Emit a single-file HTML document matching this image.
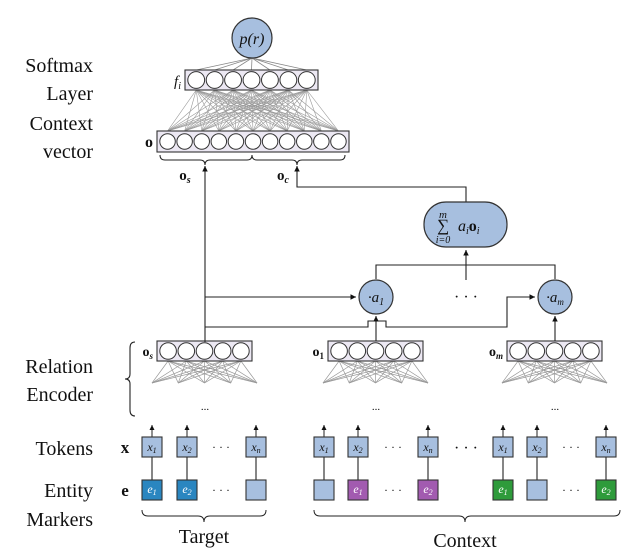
<!DOCTYPE html>
<html><head><meta charset="utf-8"><style>
body{margin:0;background:#fff}
svg{display:block}
text{font-family:"Liberation Serif",serif;fill:#111}
.it{font-style:italic}
</style></head><body>
<svg id="s" width="639" height="555" viewBox="0 0 639 555" xmlns="http://www.w3.org/2000/svg">
<defs><marker id="a" markerWidth="6" markerHeight="6" refX="5" refY="3" orient="auto"><path d="M0,0.5 L5,3 L0,5.5 z" fill="#111"/></marker></defs>
<g font-size="20" text-anchor="end">
<text x="93" y="72">Softmax</text>
<text x="93" y="100">Layer</text>
<text x="93" y="130">Context</text>
<text x="93" y="158">vector</text>
<text x="93" y="373">Relation</text>
<text x="93" y="401">Encoder</text>
<text x="93" y="455">Tokens</text>
<text x="93" y="497">Entity</text>
<text x="93" y="526">Markers</text>
</g>
<g id="g"></g>
<circle cx="252" cy="38" r="20" fill="#a7bfdf" stroke="#333" stroke-width="1.2"/>
<text x="252" y="44" font-size="16" text-anchor="middle" class="it">p(r)</text>
<text x="181" y="86" font-size="15" text-anchor="end" class="it">f<tspan font-size="10" dy="3">i</tspan></text>
<text x="153" y="147" font-size="16" text-anchor="end" font-weight="bold">o</text>
<text x="185" y="180" font-size="15" text-anchor="middle" font-weight="bold">o<tspan font-size="10" dy="3" class="it">s</tspan></text>
<text x="283" y="180" font-size="15" text-anchor="middle" font-weight="bold">o<tspan font-size="10" dy="3" class="it">c</tspan></text>
<path d="M160,155 q0,5 5,5 h35 q5,0 5,5 q0,-5 5,-5 h37 q5,0 5,-5 M252,155 q0,5 5,5 h35 q5,0 5,5 q0,-5 5,-5 h38 q5,0 5,-5" fill="none" stroke="#222" stroke-width="1"/>
<g stroke="#222" stroke-width="1.1" fill="none">
<line x1="205" y1="342" x2="205" y2="166" marker-end="url(#a)"/>
<polyline points="466,202 466,187 297,187 297,166" marker-end="url(#a)"/>
<line x1="466" y1="280" x2="466" y2="250" marker-end="url(#a)"/>
<polyline points="376,279 376,265 555,265 555,279"/>
<line x1="205" y1="297" x2="356" y2="297" marker-end="url(#a)"/>
<polyline points="205,327 368,327 368,321 386,321 386,327 507,327 507,297 535,297" marker-end="url(#a)"/>
<line x1="376" y1="341" x2="376" y2="316" marker-end="url(#a)"/>
<line x1="555" y1="341" x2="555" y2="316" marker-end="url(#a)"/>
</g>
<rect x="424" y="202" width="83" height="45" rx="22" fill="#a7bfdf" stroke="#333" stroke-width="1.2"/>
<text x="443" y="218" font-size="11" text-anchor="middle" class="it">m</text>
<text x="443" y="231" font-size="17" text-anchor="middle">∑</text>
<text x="443" y="243" font-size="10" text-anchor="middle" class="it">i=0</text>
<text x="458" y="231" font-size="16" class="it">a<tspan font-size="10" dy="3">i</tspan><tspan dy="-3" font-weight="bold" font-style="normal">o</tspan><tspan font-size="10" dy="3">i</tspan></text>
<circle cx="376" cy="297" r="17" fill="#a7bfdf" stroke="#333" stroke-width="1.2"/>
<text x="376" y="302" font-size="15" text-anchor="middle" class="it">·a<tspan font-size="10" dy="3">1</tspan></text>
<circle cx="555" cy="297" r="17" fill="#a7bfdf" stroke="#333" stroke-width="1.2"/>
<text x="555" y="302" font-size="15" text-anchor="middle" class="it">·a<tspan font-size="9" dy="3">m</tspan></text>
<text x="466" y="302" font-size="16" text-anchor="middle">· · ·</text>
<text x="153" y="356" font-size="14" text-anchor="end" font-weight="bold">o<tspan font-size="9" dy="3" class="it">s</tspan></text>
<text x="324" y="356" font-size="14" text-anchor="end" font-weight="bold">o<tspan font-size="9" dy="3">1</tspan></text>
<text x="503" y="356" font-size="14" text-anchor="end" font-weight="bold">o<tspan font-size="9" dy="3" class="it">m</tspan></text>
<path d="M135,342 q-5,0 -5,6 v26 q0,5 -5,5 q5,0 5,5 v26 q0,6 5,6" fill="none" stroke="#222" stroke-width="1.1"/>
<text x="125" y="453" font-size="17" text-anchor="middle" font-weight="bold">x</text>
<text x="125" y="496" font-size="17" text-anchor="middle" font-weight="bold">e</text>
<path d="M142,510 q0,6 6,6 h50 q6,0 6,6 q0,-6 6,-6 h50 q6,0 6,-6" fill="none" stroke="#222" stroke-width="1"/>
<text x="204" y="543" font-size="20" text-anchor="middle">Target</text>
<path d="M314,510 q0,6 6,6 h139 q6,0 6,6 q0,-6 6,-6 h143 q6,0 6,-6" fill="none" stroke="#222" stroke-width="1"/>
<text x="465" y="547" font-size="20" text-anchor="middle">Context</text>
</svg>
<script>
const NS="http://www.w3.org/2000/svg",g=document.getElementById('g');
function el(t,a,txt){const e=document.createElementNS(NS,t);for(const k in a)e.setAttribute(k,a[k]);if(txt)e.textContent=txt;g.appendChild(e);return e;}
function layer(x,y,n,w,h){const d=(w-4)/n;const cs=[];for(let i=0;i<n;i++)cs.push(x+2+d*(i+0.5));return{x,y,w,h,cs,r:d/2-0.8};}
function drawLayer(L){el('rect',{x:L.x,y:L.y,width:L.w,height:L.h,fill:'#ece8f3',stroke:'#333','stroke-width':1.1});L.cs.forEach(c=>el('circle',{cx:c,cy:L.y+L.h/2,r:L.r,fill:'#fff',stroke:'#333','stroke-width':1}));}
const F=layer(185,70,7,133,20),O=layer(157,131,11,192,21);
F.cs.forEach(c=>el('line',{x1:252,y1:58,x2:c,y2:70,stroke:'#888','stroke-width':0.8}));
F.cs.forEach(a=>O.cs.forEach(b=>el('line',{x1:a,y1:90,x2:b,y2:131,stroke:'#999','stroke-width':0.6})));
drawLayer(F);drawLayer(O);
[157,328,507].forEach(x=>{
 const L=layer(x,341,5,95,20);
 const bs=[];for(let i=0;i<5;i++)bs.push(x-5+i*26.25);
 L.cs.forEach(a=>bs.forEach(b=>el('line',{x1:a,y1:361,x2:b,y2:383,stroke:'#999','stroke-width':0.7})));
 drawLayer(L);
 el('text',{x:x+48,y:410,'font-size':11,'text-anchor':'middle',fill:'#888'},'...');
});
function tok(x,lab,sub,fill,elab,esub){
 el('line',{x1:x+10,y1:437,x2:x+10,y2:425,stroke:'#222','stroke-width':1,'marker-end':'url(#a)'});
 el('line',{x1:x+10,y1:457,x2:x+10,y2:480,stroke:'#222','stroke-width':1.1});
 el('rect',{x:x,y:437,width:20,height:20,fill:'#a7bfdf',stroke:'#333','stroke-width':1.1});
 const t=el('text',{x:x+10,y:451,'font-size':12,'text-anchor':'middle','font-style':'italic'},'x');
 const s=document.createElementNS(NS,'tspan');s.setAttribute('font-size','8');s.setAttribute('dy','2');s.textContent=sub;t.appendChild(s);
 el('rect',{x:x,y:480,width:20,height:20,fill:fill,stroke:'#333','stroke-width':1.1});
 if(elab){const t2=el('text',{x:x+10,y:493,'font-size':12,'text-anchor':'middle','font-style':'italic',fill:'#fff'},'e');t2.style.fill='#fff';
 const s2=document.createElementNS(NS,'tspan');s2.setAttribute('font-size','8');s2.setAttribute('dy','2');s2.textContent=esub;t2.appendChild(s2);}
}
const B='#a7bfdf',D='#2a86c0',P='#a25bb0',G='#2e9b3b';
tok(142,'x','1',D,1,'1');tok(177,'x','2',D,1,'2');tok(246,'x','n',B);
tok(314,'x','1',B);tok(348,'x','2',P,1,'1');tok(418,'x','n',P,1,'2');
tok(493,'x','1',G,1,'1');tok(527,'x','2',B);tok(596,'x','n',G,1,'2');
[[221,451],[221,494],[393,451],[393,494],[571,451],[571,494]].forEach(([x,y])=>el('text',{x:x,y:y,'font-size':12,'text-anchor':'middle',fill:'#666'},'· · ·'));
el('text',{x:466,y:453,'font-size':16,'text-anchor':'middle'},'· · ·');
</script>
</body></html>
